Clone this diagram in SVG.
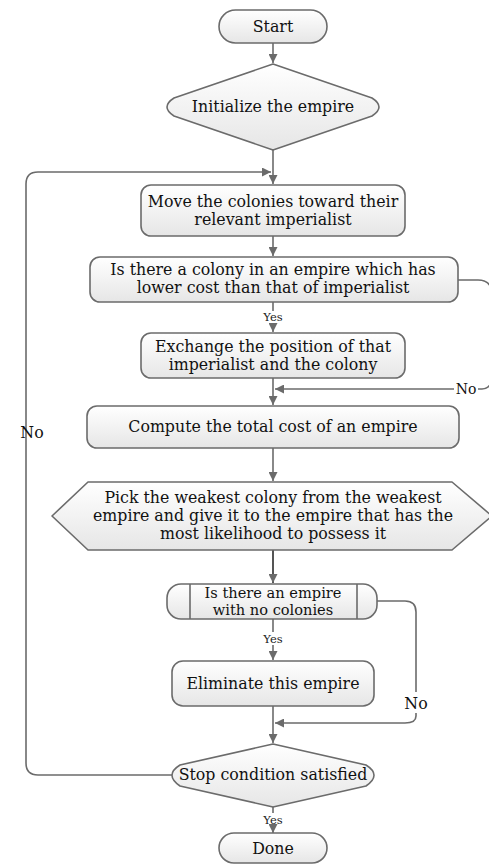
<svg xmlns="http://www.w3.org/2000/svg" width="489" height="864" viewBox="0 0 489 864">
<defs>
<linearGradient id="g" x1="0" y1="0" x2="0" y2="1">
<stop offset="0" stop-color="#ffffff"/>
<stop offset="1" stop-color="#e6e6e6"/>
</linearGradient>
<marker id="ah" viewBox="0 0 10 10" refX="10" refY="5" markerWidth="9" markerHeight="9" markerUnits="userSpaceOnUse" orient="auto">
<path d="M0,0 L10,5 L0,10 z" fill="#6b6b6b"/>
</marker>
<style>
.n{fill:url(#g);stroke:#6b6b6b;stroke-width:1.6;stroke-linejoin:round}
.c{fill:none;stroke:#6b6b6b;stroke-width:1.6}
.t{font-family:"DejaVu Serif","Liberation Serif",serif;font-size:15.8px;fill:#111;text-anchor:middle}
.s{font-family:"DejaVu Serif","Liberation Serif",serif;font-size:11.5px;fill:#222;text-anchor:middle}
</style>
</defs>
<g id="connectors">
<path class="c" d="M273,43 V63" marker-end="url(#ah)"/>
<path class="c" d="M273,150 V184" marker-end="url(#ah)"/>
<path class="c" d="M273,236 V256" marker-end="url(#ah)"/>
<path class="c" d="M273,302 V311"/>
<path class="c" d="M273,323 V332" marker-end="url(#ah)"/>
<path class="c" d="M273,378 V405" marker-end="url(#ah)"/>
<path class="c" d="M458,280 H478 Q492,280 492,295 V375 Q492,389 482,389 H478"/>
<path class="c" d="M454,389 H275" marker-end="url(#ah)"/>
<path class="c" d="M273,448 V481" marker-end="url(#ah)"/>
<path class="c" d="M273,550 V583" marker-end="url(#ah)" style="stroke:#555;stroke-width:2"/>
<path class="c" d="M273,619 V632"/>
<path class="c" d="M273,645 V660" marker-end="url(#ah)"/>
<path class="c" d="M377,601 H405 Q416,601 416,612 V692"/>
<path class="c" d="M416,713 V716 Q416,723 405,723 H275" marker-end="url(#ah)"/>
<path class="c" d="M273,706 V743" marker-end="url(#ah)"/>
<path class="c" d="M172,775 H38 Q26,775 26,763 V184 Q26,172 38,172 H271" marker-end="url(#ah)"/>
<path class="c" d="M273,807 V813"/>
<path class="c" d="M273,826 V833" marker-end="url(#ah)"/>
</g>
<g id="start"><rect class="n" x="219" y="10" width="108" height="33" rx="16.5"/><text class="t" x="273" y="32">Start</text></g>
<g id="init"><path class="n" d="M273,64 L372,98 Q386,107 372,116 L273,150 L174,116 Q160,107 174,98 Z"/><text class="t" x="273" y="112">Initialize the empire</text></g>
<g id="move"><rect class="n" x="141" y="185" width="264" height="51" rx="10"/><text class="t" x="273" y="207">Move the colonies toward their</text><text class="t" x="273" y="225">relevant imperialist</text></g>
<g id="check1"><rect class="n" x="90" y="257" width="368" height="45" rx="10"/><text class="t" x="273" y="275">Is there a colony in an empire which has</text><text class="t" x="273" y="293">lower cost than that of imperialist</text></g>
<text class="s" x="273" y="321">Yes</text>
<g id="exchange"><rect class="n" x="141" y="333" width="264" height="45" rx="10"/><text class="t" x="273" y="352">Exchange the position of that</text><text class="t" x="273" y="370">imperialist and the colony</text></g>
<text class="t" x="466" y="394" style="font-size:14px">No</text>
<g id="compute"><rect class="n" x="87" y="406" width="372" height="42" rx="10"/><text class="t" x="273" y="432">Compute the total cost of an empire</text></g>
<g id="pick"><path class="n" d="M88,482 H452 L492,516 L452,550 H88 L52,516 Z"/><text class="t" x="273" y="503">Pick the weakest colony from the weakest</text><text class="t" x="273" y="521">empire and give it to the empire that has the</text><text class="t" x="273" y="539">most likelihood to possess it</text></g>
<g id="check2"><rect class="n" x="167" y="584" width="210" height="35" rx="14"/><path class="c" d="M190,584 V619 M357,584 V619"/><text class="t" x="273" y="597.5" style="font-size:14.6px">Is there an empire</text><text class="t" x="273" y="614.5" style="font-size:14.6px">with no colonies</text></g>
<text class="s" x="273" y="643">Yes</text>
<g id="eliminate"><rect class="n" x="172" y="661" width="202" height="45" rx="11"/><text class="t" x="273" y="689">Eliminate this empire</text></g>
<text class="t" x="416" y="709">No</text>
<g id="stop"><path class="n" d="M273,744 L366,765 Q382,775 366,786 L273,807 L180,786 Q164,775 180,765 Z"/><text class="t" x="273" y="780">Stop condition satisfied</text></g>
<text class="t" x="32" y="438">No</text>
<text class="s" x="273" y="824">Yes</text>
<g id="done"><rect class="n" x="219" y="833" width="108" height="30" rx="15"/><text class="t" x="273" y="854">Done</text></g>
</svg>
